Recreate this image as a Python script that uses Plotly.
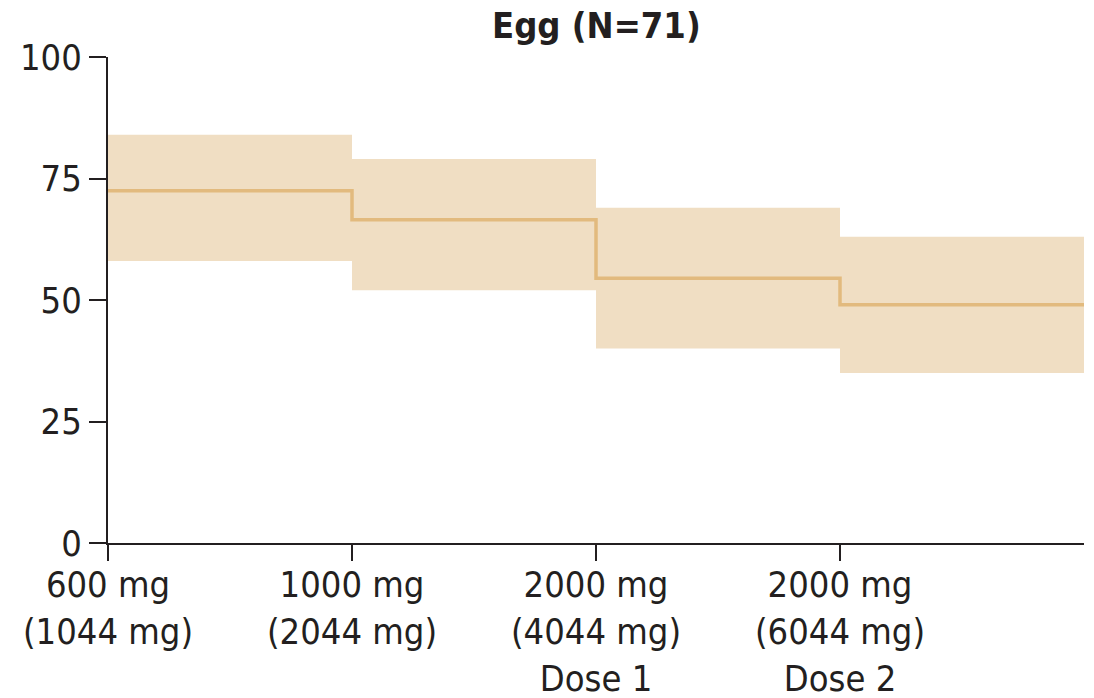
import plotly.graph_objects as go

# Data
dose_labels = ["600 mg<br>(1044 mg)", "1000 mg<br>(2044 mg)",
               "2000 mg<br>(4044 mg)<br>Dose 1", "2000 mg<br>(6044 mg)<br>Dose 2"]
step_x = [0, 1, 2, 3, 4]
estimate = [72.5, 66.5, 54.5, 49, 49]
ci_lower = [58, 52, 40, 35, 35]
ci_upper = [84, 79, 69, 63, 63]
y_ticks = [0, 25, 50, 75, 100]
title_text = "Egg (N=71)"

line_color = "#E2BA7E"
fill_color = "rgba(240,222,195,1)"
text_color = "#231F20"
font_family = "DejaVu Sans Condensed, Liberation Sans, Arial, sans-serif"

fig = go.Figure()
fig.add_trace(go.Scatter(x=step_x, y=ci_lower, mode="lines", line=dict(width=0, shape="hv"),
                         hoverinfo="skip", showlegend=False))
fig.add_trace(go.Scatter(x=step_x, y=ci_upper, mode="lines", line=dict(width=0, shape="hv"),
                         fill="tonexty", fillcolor=fill_color, hoverinfo="skip", showlegend=False))
fig.add_trace(go.Scatter(x=step_x, y=estimate, mode="lines",
                         line=dict(color=line_color, width=3.5, shape="hv"), showlegend=False))

fig.update_layout(
    width=1094, height=698,
    margin=dict(l=108, r=10, t=57, b=155, autoexpand=False),
    paper_bgcolor="white", plot_bgcolor="white",
    font=dict(family=font_family, size=36, color=text_color),
    annotations=[dict(text="<b>" + title_text + "</b>", x=0.5, y=1, xref="paper", yref="paper",
                      xanchor="center", yanchor="middle", yshift=32, showarrow=False,
                      font=dict(size=36, family=font_family, color=text_color))],
)
fig.update_xaxes(range=[0, 4], tickvals=[0, 1, 2, 3], ticktext=dose_labels, automargin=False,
                 showgrid=False, zeroline=False, showline=True, linecolor=text_color, linewidth=2,
                 ticks="outside", ticklen=16, tickwidth=2, tickcolor=text_color,
                 ticklabelstandoff=-7, tickfont=dict(size=36))
fig.update_yaxes(range=[0, 100], tickvals=y_ticks, automargin=False,
                 showgrid=False, zeroline=False, showline=True, linecolor=text_color, linewidth=2,
                 ticks="outside", ticklen=17, tickwidth=2, tickcolor=text_color,
                 tickfont=dict(size=36))

fig.write_html("out.html", config={"displayModeBar": False},
               post_script="document.body.style.margin='0';document.body.style.overflow='hidden';")
